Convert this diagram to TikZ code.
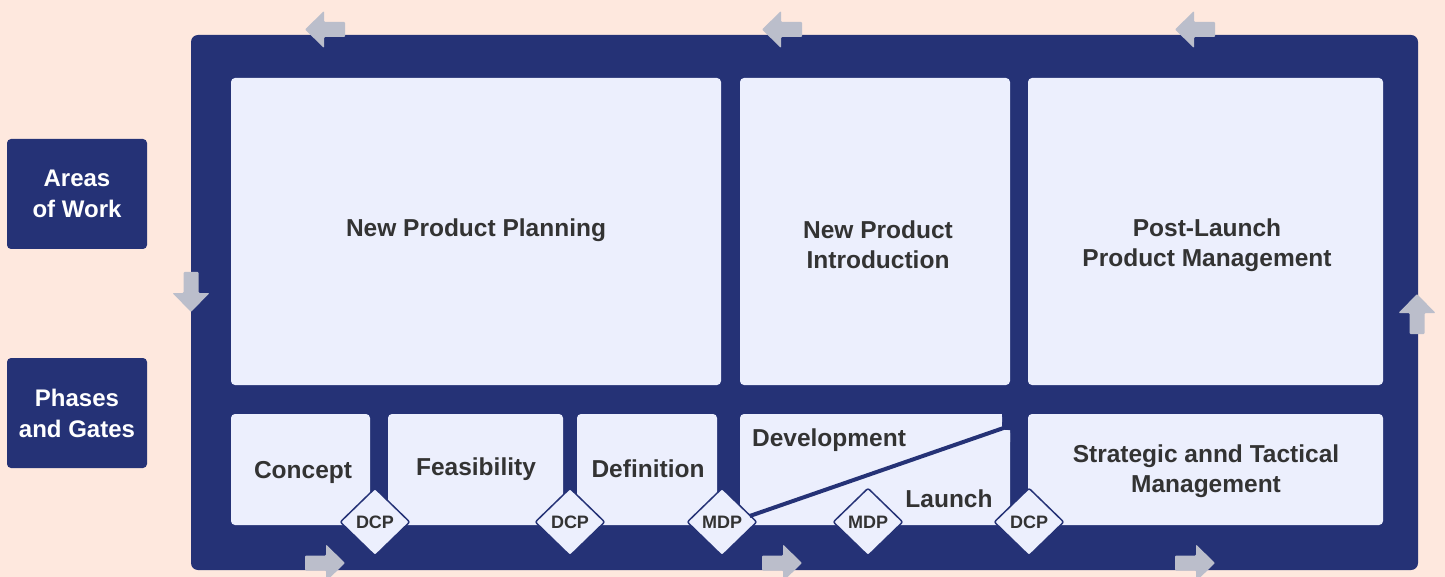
\documentclass[tikz,border=0pt]{standalone}
\usepackage{fontspec}
\setmainfont{Liberation Sans}
\usetikzlibrary{shapes.geometric}
\definecolor{bgc}{HTML}{FEE8DE}
\definecolor{navy}{HTML}{253276}
\definecolor{lightc}{HTML}{ECEFFD}
\definecolor{arrowc}{HTML}{BBBECB}
\definecolor{txtc}{HTML}{333333}
\newcommand\leftarr[1]{\fill[arrowc,rounded corners=1pt] (#1) -- ++(19,-18.5) -- ++(0,11) -- ++(21,0) -- ++(0,15) -- ++(-21,0) -- ++(0,11) -- cycle;}
\newcommand\rightarr[1]{\fill[arrowc,rounded corners=1pt] (#1) -- ++(-19,-18.5) -- ++(0,11) -- ++(-21,0) -- ++(0,15) -- ++(21,0) -- ++(0,11) -- cycle;}
\newcommand\downarr[1]{\fill[arrowc,rounded corners=1pt] (#1) -- ++(-18.5,-19) -- ++(11,0) -- ++(0,-21) -- ++(15,0) -- ++(0,21) -- ++(11,0) -- cycle;}
\newcommand\uparr[1]{\fill[arrowc,rounded corners=1pt] (#1) -- ++(-18.5,19) -- ++(11,0) -- ++(0,21) -- ++(15,0) -- ++(0,-21) -- ++(11,0) -- cycle;}
\begin{document}
\begin{tikzpicture}[x=1pt,y=-1pt,
  frame/.style={fill=navy,rounded corners=7pt,inner sep=0pt},
  panel/.style={fill=lightc,rounded corners=4pt,inner sep=0pt},
  label/.style={text=txtc,inner sep=0pt,align=center,font=\bfseries\fontsize{24.5}{30}\selectfont},
  sidebox/.style={fill=navy,rounded corners=4pt,inner sep=0pt,text=white,align=center,minimum width=140pt,minimum height=110pt,font=\bfseries\fontsize{24}{31}\selectfont},
  gate/.style={diamond,draw=navy,line width=1.5pt,fill=lightc,inner sep=0pt,minimum width=70pt,minimum height=68pt,rounded corners=2pt,text=txtc,font=\bfseries\fontsize{18}{20}\selectfont}]
\useasboundingbox (0,0) rectangle (1445,577);
\fill[bgc] (0,0) rectangle (1445,577);
\node[frame,minimum width=1227pt,minimum height=535pt] (main) at (804.5,302.5) {};
% side boxes
\node[sidebox] (areas) at (77,194) {Areas\\of Work};
\node[sidebox] (phases) at (77,413) {Phases\\and Gates};
% top panels
\node[panel,minimum width=490pt,minimum height=307pt] (npp) at (476,231.5) {};
\node[label] (npptxt) at (476,230) {New Product Planning};
\node[panel,minimum width=270pt,minimum height=307pt] (npi) at (875,231.5) {};
\node[label] (npitxt) at (878,245) {New Product\\Introduction};
\node[panel,minimum width=355pt,minimum height=307pt] (plpm) at (1205.5,231.5) {};
\node[label] (plpmtxt) at (1207,245) {Post-Launch\\Product Management};
% bottom panels
\node[panel,minimum width=139pt,minimum height=111pt] (concept) at (300.5,469.5) {};
\node[label] (concepttxt) at (303,472) {Concept};
\node[panel,minimum width=175pt,minimum height=111pt] (feas) at (475.5,469.5) {};
\node[label] (feastxt) at (476,469) {Feasibility};
\node[panel,minimum width=140pt,minimum height=111pt] (defn) at (647,469.5) {};
\node[label] (defntxt) at (648,469) {Definition};
\node[panel,minimum width=270pt,minimum height=111pt] (devl) at (875,469.5) {};
\fill[navy] (1002,411) -- (1013,411) -- (1013,430) -- (1005,430) -- (1002,426) -- cycle;
\fill[lightc,rounded corners=3pt] (990,414) -- (1002,414) -- (1002,425) -- (990,428) -- cycle;
\fill[lightc,rounded corners=3pt] (995,430) -- (1010,430) -- (1010,445) -- (995,445) -- cycle;
\node[label] (devtxt) at (829,440) {Development};
\node[label] (launchtxt) at (949,499) {Launch};
\node[panel,minimum width=355pt,minimum height=111pt] (satm) at (1205.5,469.5) {};
\node[label] (satmtxt) at (1206,471.5) {Strategic annd Tactical\\Management};
% gates
\node[gate] (g1) at (375,522) {DCP};
\node[gate] (g2) at (570,522) {DCP};
\node[gate] (g3) at (722,522) {MDP};
\node[gate] (g4) at (868,522) {MDP};
\node[gate] (g5) at (1029,522) {DCP};
\coordinate (lineend) at (1005,427.5);
\draw[navy,line width=4pt] (g3.east) ++(-8,-6) -- (lineend);
% arrows
\leftarr{305,29.5}
\leftarr{762,29.5}
\leftarr{1175,29.5}
\rightarr{345,563}
\rightarr{802,563}
\rightarr{1215,563}
\downarr{191,312}
\uparr{1417,294}
\end{tikzpicture}
\end{document}
